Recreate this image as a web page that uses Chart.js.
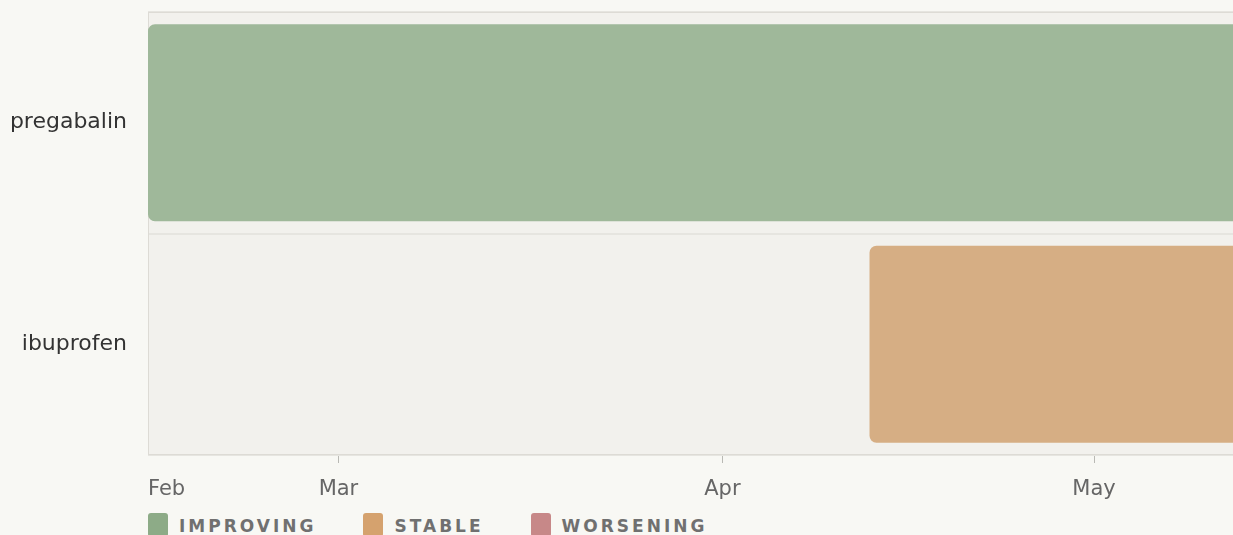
<!DOCTYPE html>
<html>
<head>
<meta charset="utf-8">
<script src="https://cdn.jsdelivr.net/npm/chart.js@4"></script>
<style>
  html, body { margin: 0; padding: 0; background: #f8f8f4; overflow: hidden; }
  #wrap { width: 1478px; }
  #legend { display: flex; margin: 13px 0 0 148px; font-family: "DejaVu Sans", sans-serif; }
  .item { display: flex; align-items: flex-start; margin-right: 47px; }
  .swatch { width: 20px; height: 24px; border-radius: 3px; margin-right: 11px; }
  .label { padding-top: 3px; font-size: 17px; font-weight: bold; letter-spacing: 3px; color: #707070; line-height: 20px; }
</style>
</head>
<body>
<div id="wrap">
  <canvas id="timeline" width="1478" height="500"></canvas>
  <div id="legend"></div>
</div>
<script>
// chart data
const medications = ['pregabalin', 'ibuprofen'];
const startDates = ['2025-02-13T15:00', '2025-04-12T21:00'];
const endDates = ['2025-05-25T00:00', '2025-05-25T00:00'];
const statuses = ['improving', 'stable'];
const monthTicks = ['2025-03-01T00:00', '2025-04-01T00:00', '2025-05-01T00:00', '2025-06-01T00:00'];
const axisStart = '2025-02-13T15:00';
const axisEnd = '2025-06-01T00:00';
const legendStatuses = ['improving', 'stable', 'worsening'];
const monthNames = ['Jan', 'Feb', 'Mar', 'Apr', 'May', 'Jun', 'Jul', 'Aug', 'Sep', 'Oct', 'Nov', 'Dec'];

let statusColors = { improving: '#9fb89a', stable: '#d6ae84', worsening: '#cf9c9c' };
let swatchColors = { improving: '#8dab87', stable: '#d5a26e', worsening: '#c78888' };

function toDay(s) {
  return Date.parse(s + ':00Z') / 864e5;
}

let plotBackground = {
  id: 'plotBackground',
  beforeDraw: function (chart) {
    let a = chart.chartArea, ctx = chart.ctx;
    ctx.save();
    ctx.fillStyle = '#f2f1ed';
    ctx.fillRect(a.left, a.top, a.right - a.left, a.bottom - a.top);
    ctx.restore();
  },
  beforeDatasetsDraw: function (chart) {
    let a = chart.chartArea, ctx = chart.ctx;
    ctx.save();
    ctx.strokeStyle = '#dddbd5';
    ctx.lineWidth = 1;
    ctx.strokeRect(a.left + 0.5, a.top + 0.5, a.right - a.left - 1, a.bottom - a.top - 1);
    ctx.restore();
  }
};

let timelineChart = new Chart(document.getElementById('timeline').getContext('2d'), {
  type: 'bar',
  data: {
    labels: medications,
    datasets: [{
      data: medications.map((m, i) => [toDay(startDates[i]), toDay(endDates[i])]),
      backgroundColor: statuses.map(s => statusColors[s]),
      borderRadius: 7,
      borderSkipped: false,
      barPercentage: 0.89,
      categoryPercentage: 1
    }]
  },
  options: {
    indexAxis: 'y',
    responsive: false,
    animation: false,
    layout: { padding: { top: 12, left: 0, right: 0, bottom: 0 } },
    plugins: { legend: { display: false }, tooltip: { enabled: false } },
    scales: {
      x: {
        type: 'linear',
        min: toDay(axisStart),
        max: toDay(axisEnd),
        afterBuildTicks: function (scale) {
          scale.ticks = [axisStart].concat(monthTicks).map(v => ({ value: toDay(v) }));
        },
        afterFit: function (scale) {
          scale.height = 45;
          scale.paddingLeft = 0;
          scale.paddingRight = 0;
        },
        border: { display: false },
        grid: {
          drawOnChartArea: false,
          tickLength: 8,
          color: ctx => ctx.index === 0 ? 'rgba(0,0,0,0)' : '#b9b9b4'
        },
        ticks: {
          align: 'inner',
          autoSkip: false,
          maxRotation: 0,
          padding: 14,
          color: '#666666',
          font: { family: 'DejaVu Sans', size: 21 },
          callback: v => monthNames[new Date(v * 864e5).getUTCMonth()]
        }
      },
      y: {
        afterFit: function (scale) {
          scale.width = 148;
          scale.paddingTop = 0;
          scale.paddingBottom = 0;
        },
        border: { display: false },
        grid: { drawTicks: false, color: '#e6e5e0', lineWidth: 2 },
        ticks: {
          padding: 21,
          color: '#333333',
          font: { family: 'DejaVu Sans', size: 22 }
        }
      }
    }
  },
  plugins: [plotBackground]
});

let legend = document.getElementById('legend');
legendStatuses.forEach(function (s) {
  let item = document.createElement('div');
  item.className = 'item';
  item.innerHTML = '<div class="swatch" style="background:' + swatchColors[s] + '"></div><div class="label">' + s.toUpperCase() + '</div>';
  legend.appendChild(item);
});
</script>
</body>
</html>
